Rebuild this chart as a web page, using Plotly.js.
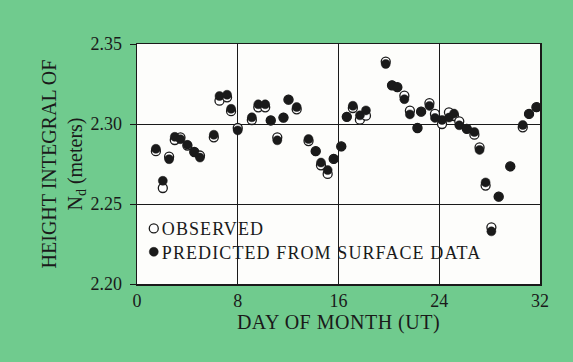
<!DOCTYPE html>
<html>
<head>
<meta charset="utf-8">
<script src="https://cdn.plot.ly/plotly-3.0.1.min.js"></script>
<style>html,body{margin:0;padding:0;background:#70cb8e;}#chart{width:573px;height:362px;}</style>
</head>
<body>
<div id="chart"></div>
<script>
const days = [1.5, 2.05, 2.55, 3.0, 3.45, 4.0, 4.55, 5.0, 6.1, 6.55, 7.15, 7.47, 8.0, 9.12, 9.63, 10.18, 10.62, 11.14, 11.63, 12.03, 12.68, 13.62, 14.19, 14.61, 15.14, 15.62, 16.22, 16.66, 17.14, 17.7, 18.18, 19.75, 20.25, 20.67, 21.23, 21.67, 22.27, 22.56, 23.22, 23.66, 24.22, 24.77, 25.17, 25.59, 26.19, 26.79, 27.2, 27.68, 28.14, 28.72, 29.64, 30.63, 31.13, 31.72];
const observed = [2.283, 2.260, 2.2796, 2.290, 2.2917, 2.2865, 2.2825, 2.2803, 2.2917, 2.3146, 2.3167, 2.308, 2.2975, 2.3025, 2.3104, 2.3104, 2.3022, 2.2917, 2.304, 2.3152, 2.3092, 2.2893, 2.283, 2.2742, 2.2688, 2.2782, 2.286, 2.3045, 2.310, 2.3027, 2.3052, 2.339, 2.3242, 2.323, 2.3177, 2.3083, 2.2975, 2.3077, 2.3131, 2.3063, 2.300, 2.3073, 2.305, 2.3017, 2.297, 2.2933, 2.2854, 2.2615, 2.2354, 2.2546, 2.2735, 2.2979, 2.3063, 2.3105];
const predicted = [2.2845, 2.2645, 2.278, 2.292, 2.2905, 2.287, 2.2825, 2.279, 2.2933, 2.3175, 2.3183, 2.3095, 2.296, 2.3042, 2.3123, 2.3123, 2.3022, 2.2898, 2.304, 2.3152, 2.3106, 2.2906, 2.283, 2.2759, 2.2712, 2.2782, 2.286, 2.3045, 2.3114, 2.3054, 2.3085, 2.3375, 2.3242, 2.323, 2.3155, 2.306, 2.2975, 2.3077, 2.3113, 2.3038, 2.3025, 2.304, 2.3065, 2.2992, 2.297, 2.295, 2.2838, 2.2635, 2.2329, 2.2546, 2.2735, 2.2994, 2.3063, 2.3105];
const xTicks = [0, 8, 16, 24, 32];
const yTicks = [2.20, 2.25, 2.30, 2.35];
const yTickText = ['2.20', '2.25', '2.30', '2.35'];

const font = 'Liberation Serif, Times New Roman, serif';
const ink = '#1a1a1a';
const traces = [
  {x: days, y: observed, type: 'scatter', mode: 'markers', name: 'OBSERVED',
   marker: {size: 9, color: '#ffffff', line: {color: ink, width: 1.3}}},
  {x: days, y: predicted, type: 'scatter', mode: 'markers', name: 'PREDICTED FROM SURFACE DATA',
   marker: {size: 9, color: ink, line: {color: ink, width: 0.5}}}
];
const layout = {
  width: 573, height: 362,
  paper_bgcolor: '#70cb8e', plot_bgcolor: '#fdfdfb',
  margin: {l: 137, r: 33, t: 44, b: 78},
  font: {family: font, size: 18, color: ink},
  showlegend: true,
  legend: {x: -0.008, xanchor: 'left', y: 0.3075, yanchor: 'top', bgcolor: 'rgba(0,0,0,0)',
           font: {family: font, size: 18, color: ink}, itemwidth: 30, tracegroupgap: 0},
  xaxis: {range: [0, 32], tickvals: xTicks, ticktext: xTicks.map(String),
          showgrid: true, gridcolor: ink, gridwidth: 1, zeroline: false,
          showline: true, linecolor: ink, linewidth: 1.5, mirror: true,
          ticks: '', ticklabelstandoff: 0,
          tickfont: {family: font, size: 18},
          title: {text: 'DAY OF MONTH (UT)', font: {family: font, size: 20}, standoff: 0}},
  yaxis: {range: [2.20, 2.35], tickvals: yTicks, ticktext: yTickText,
          showgrid: true, gridcolor: ink, gridwidth: 1, zeroline: false,
          showline: true, linecolor: ink, linewidth: 1.5, mirror: true,
          ticks: 'outside', ticklen: 6, tickcolor: ink, ticklabelstandoff: 4,
          tickfont: {family: font, size: 18},
          title: {text: 'HEIGHT INTEGRAL OF<br>N<sub>d</sub> (meters)', font: {family: font, size: 20}, standoff: 2}}
};
Plotly.newPlot('chart', traces, layout, {staticPlot: true, displayModeBar: false}).then(function (gd) {
  const xt = gd.querySelector('.g-xtitle text');
  if (xt) xt.style.letterSpacing = '0.5px';
  gd.querySelectorAll('.legend, .legend .scrollbox, .legend g').forEach(function (el) {
    el.removeAttribute('clip-path');
  });
  gd.querySelectorAll('.legend .legendtext').forEach(function (t) {
    t.style.letterSpacing = '1.1px';
    const x = parseFloat(t.getAttribute('x')) || 0;
    t.setAttribute('x', x - 12);
    t.querySelectorAll('tspan').forEach(function (s) {
      if (s.hasAttribute('x')) s.setAttribute('x', parseFloat(s.getAttribute('x')) - 12);
    });
  });
  const items = gd.querySelectorAll('.legend .traces');
  if (items.length > 1) {
    const tr = items[1].getAttribute('transform') || '';
    const m = tr.match(/translate\(\s*([-\d.]+)[ ,]+([-\d.]+)\s*\)/);
    if (m) items[1].setAttribute('transform', 'translate(' + m[1] + ',' + (parseFloat(m[2]) - 3) + ')');
  }
});
</script>
</body>
</html>
